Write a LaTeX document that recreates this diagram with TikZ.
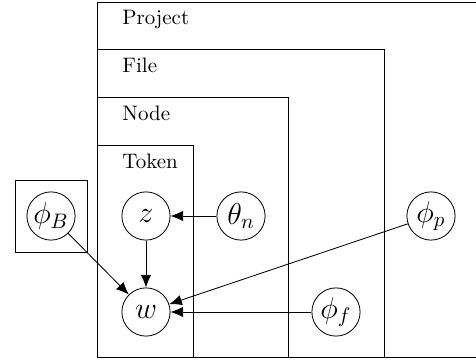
\documentclass[tikz,border=0pt]{standalone}
\usetikzlibrary{arrows.meta}
\begin{document}
\begin{tikzpicture}[x=0.477pt,y=-0.477pt,
  var/.style={draw,circle,minimum size=23pt,inner sep=0.5pt,font=\Large},
  plate/.style={draw,line width=0.4pt},
  platelabel/.style={anchor=base west,inner sep=0pt},
  edge/.style={-{Latex[length=6pt,width=5pt]},line width=0.4pt}]
\useasboundingbox (0,0) rectangle (476,362);
% plates
\draw[plate] (476,2) -- (97,2) -- (97,357) -- (476,357);
\draw[plate] (97,49) rectangle (384,357);
\draw[plate] (97,97) rectangle (288,357);
\draw[plate] (97,145) rectangle (193,357);
\draw[plate] (15,180) rectangle (87,252);
\node[platelabel] (lp) at (122,25) {Project};
\node[platelabel] (lf) at (122,73) {File};
\node[platelabel] (ln) at (122,121) {Node};
\node[platelabel] (lt) at (122,169) {Token};
% variables
\node[var] (phiB) at (51,216) {$\phi_B$};
\node[var] (z) at (146,216) {$z$};
\node[var] (theta) at (241,216) {$\theta_n$};
\node[var] (w) at (146,312) {$w$};
\node[var] (phip) at (431,216) {$\phi_p$};
\node[var] (phif) at (336,312) {$\phi_f$};
% edges
\draw[edge] (phiB) -- (w);
\draw[edge] (z) -- (w);
\draw[edge] (theta) -- (z);
\draw[edge] (phip) -- (w);
\draw[edge] (phif) -- (w);
\end{tikzpicture}
\end{document}
